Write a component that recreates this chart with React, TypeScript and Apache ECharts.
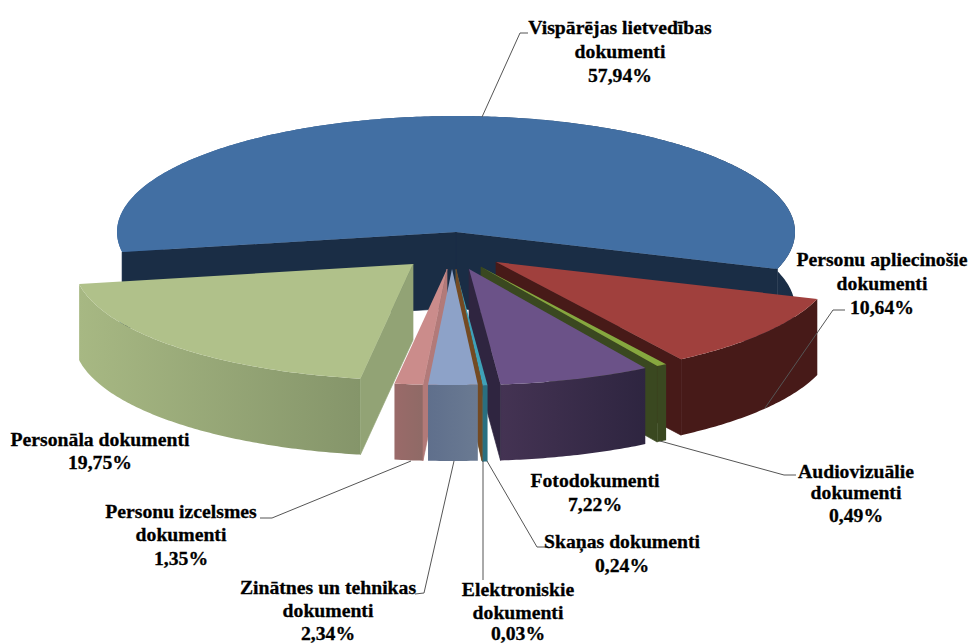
import React, { useEffect, useRef } from "react";
import * as echarts from "echarts";

const categories = [
  "Vispārējas lietvedības dokumenti",
  "Personāla dokumenti",
  "Personu izcelsmes dokumenti",
  "Zinātnes un tehnikas dokumenti",
  "Elektroniskie dokumenti",
  "Skaņas dokumenti",
  "Fotodokumenti",
  "Audiovizuālie dokumenti",
  "Personu apliecinošie dokumenti",
];
const shares = [57.94, 19.75, 1.35, 2.34, 0.03, 0.24, 7.22, 0.49, 10.64];

// Slice-wise drawing details (not data): where each exploded apex sits, colours, painter's order.
const apexes = [
  [456, 232], [413, 264], [447, 269], [452, 269], [456, 269], [456, 270], [469, 269], [481, 267], [496, 262],
];
const topColors = ["#426fa3", "#b0c18a", "#cb8c8b", "#8da2c8", "#7a4a20", "#3fa1b8", "#6b5288", "#86a83f", "#a0403d"];
const cutColors = ["#1a2d45", "#92a375", "#b27a79", "#5f6f8c", "#744a22", "#2a6f80", "#2f2540", "#3a4820", "#471a18"];
const rimLeft = ["#3f6ea6", "#a7b883", "#9a6a69", "#5f6f8c", "#744a22", "#2a6f80", "#443353", "#3a4820", "#471a18"];
const rimRight = ["#1a2d45", "#85956a", "#8f6a66", "#6a7a92", "#744a22", "#2a6f80", "#2e2540", "#3a4820", "#471a18"];
const drawOrder = [0, 8, 7, 6, 5, 4, 1, 2, 3];

const START_DEG = 18.6; // blue slice's right end, clockwise from +x on screen
const RX = 339;
const RY = 116;
const DEPTH = 76;

const labelLines = [
  { cx: 620, rows: [["Vispārējas lietvedības", 27], ["dokumenti", 51], ["57,94%", 75]] },
  { cx: 882, rows: [["Personu apliecinošie", 259], ["dokumenti", 283], ["10,64%", 307]] },
  { cx: 856, rows: [["Audiovizuālie", 471], ["dokumenti", 492], ["0,49%", 515]] },
  { cx: 595, rows: [["Fotodokumenti", 480], ["7,22%", 504]] },
  { cx: 622, rows: [["Skaņas dokumenti", 541], ["0,24%", 565]] },
  { cx: 518, rows: [["Elektroniskie", 589], ["dokumenti", 612], ["0,03%", 633]] },
  { cx: 328, rows: [["Zinātnes un tehnikas", 587], ["dokumenti", 610], ["2,34%", 633]] },
  { cx: 181, rows: [["Personu izcelsmes", 511], ["dokumenti", 534], ["1,35%", 558]] },
  { cx: 100, rows: [["Personāla dokumenti", 439], ["19,75%", 462]] },
];

const leaderLines = [
  [[482, 117], [520, 33], [528, 33]],
  [[765, 408], [833, 310], [845, 310]],
  [[660, 441], [784, 475], [796, 475]],
  [[487, 461], [537, 547], [548, 547]],
  [[483, 461], [483, 580]],
  [[454, 461], [424, 593], [415, 594]],
  [[411, 461], [272, 518], [260, 518]],
];

function spanOf(index: number) {
  let used = 0;
  for (let i = 0; i < index; i++) used += shares[i];
  // the pie runs counter-clockwise on screen, from the blue slice's right end
  const from = START_DEG - (used / 100) * 360;
  const to = from - (shares[index] / 100) * 360;
  return [from, to];
}

function rimPoint(apex: number[], deg: number, drop: number) {
  const t = (deg * Math.PI) / 180;
  return [apex[0] + RX * Math.cos(t), apex[1] + RY * Math.sin(t) + drop];
}

function renderSlice(_params: any, api: any) {
  const i = api.value(0);
  const [from, to] = spanOf(i);
  const apex = apexes[i];
  const steps = Math.max(2, Math.ceil(Math.abs(from - to) * 1.5));
  const topArc: number[][] = [];
  const lowArc: number[][] = [];
  for (let k = 0; k <= steps; k++) {
    const d = from + ((to - from) * k) / steps;
    topArc.push(rimPoint(apex, d, 0));
    lowArc.push(rimPoint(apex, d, DEPTH));
  }
  const apexLow = [apex[0], apex[1] + DEPTH];
  const wall = (end: number[], endLow: number[]) => ({
    type: "polygon",
    silent: true,
    shape: { points: [apex, apexLow, endLow, end] },
    style: { fill: cutColors[i], stroke: cutColors[i], lineWidth: 0.7 },
  });
  const walls: any[] = [];
  // a radial cut shows only when it faces the viewer
  if (Math.cos((from * Math.PI) / 180) > 0) walls.push(wall(topArc[0], lowArc[0]));
  if (Math.cos((to * Math.PI) / 180) < 0) walls.push(wall(topArc[steps], lowArc[steps]));
  return {
    type: "group",
    children: [
      {
        type: "polygon",
        silent: true,
        shape: { points: [...topArc, ...lowArc.slice().reverse()] },
        style: {
          fill: new echarts.graphic.LinearGradient(0, 0, 1, 0, [
            { offset: 0, color: rimLeft[i] },
            { offset: 1, color: rimRight[i] },
          ]),
        },
      },
      ...walls,
      {
        type: "polygon",
        silent: true,
        shape: { points: [apex, ...topArc] },
        style: { fill: topColors[i] },
      },
    ],
  };
}

export default function App() {
  const ref = useRef<HTMLDivElement>(null);
  useEffect(() => {
    const chart = echarts.init(ref.current!, null, { renderer: "svg" });
    const texts = labelLines.flatMap((l) =>
      l.rows.map((r) => ({
        type: "text",
        silent: true,
        z: 10,
        style: {
          text: r[0] as string,
          x: l.cx,
          y: r[1] as number,
          fill: "#000",
          stroke: "#000",
          lineWidth: 0.3,
          font: 'bold 19.7px "Liberation Serif"',
          textAlign: "center",
          textVerticalAlign: "middle",
        },
      }))
    );
    const leaders = leaderLines.map((points) => ({
      type: "polyline",
      silent: true,
      z: 9,
      shape: { points },
      style: { stroke: "#555", lineWidth: 1, fill: "none" },
    }));
    chart.setOption({
      animation: false,
      backgroundColor: "#fff",
      series: [
        {
          type: "custom",
          coordinateSystem: "none",
          renderItem: renderSlice,
          silent: true,
          data: drawOrder.map((i) => ({ name: categories[i], value: [i, shares[i]] })),
        },
      ],
      graphic: { elements: [...leaders, ...texts] },
    });
    return () => chart.dispose();
  }, []);
  return <div ref={ref} style={{ position: "absolute", left: 0, top: 0, width: 970, height: 644 }} />;
}
